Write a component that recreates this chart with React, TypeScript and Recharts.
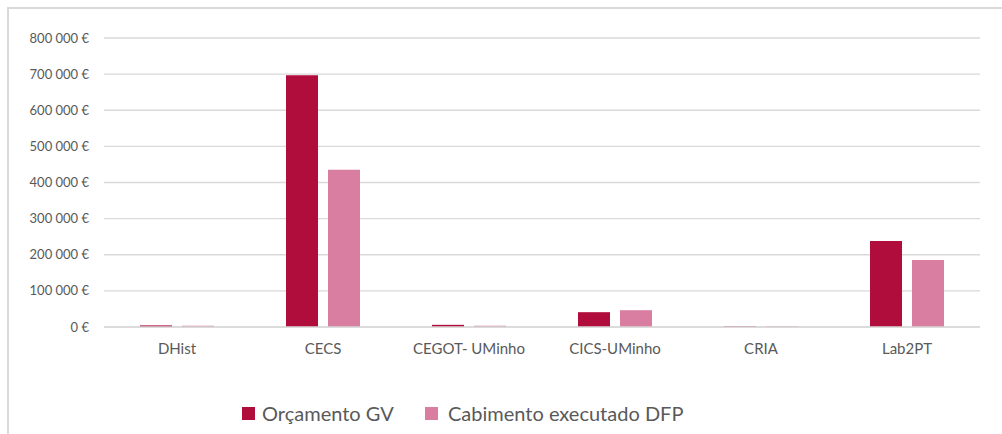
import { BarChart, Bar, XAxis, YAxis, CartesianGrid } from 'recharts';

const categories = ['DHist', 'CECS', 'CEGOT- UMinho', 'CICS-UMinho', 'CRIA', 'Lab2PT'];
const orcamentoGV = [4500, 697000, 6000, 41000, 2000, 238000];
const cabimentoDFP = [3500, 435000, 3500, 46500, 2000, 185500];
const yTicks = [0, 100000, 200000, 300000, 400000, 500000, 600000, 700000, 800000];

const series = [
  { key: 'gv', name: 'Orçamento GV', color: '#B00C3C' },
  { key: 'dfp', name: 'Cabimento executado DFP', color: '#D97EA1' },
];

const data = categories.map((name, i) => ({
  name,
  gv: orcamentoGV[i],
  dfp: cabimentoDFP[i],
}));

const font = 'Lato, "Open Sans", sans-serif';

const euro = (v: number) => {
  if (v === 0) return '0 €';
  return `${String(v).replace(/\B(?=(\d{3})+(?!\d))/g, ' ')} €`;
};

// legend item left edges and gap after the swatch
const legendLeft = [242, 425];
const swatchGap = [7, 10];

export default function App() {
  return (
    <div
      style={{
        position: 'fixed',
        left: 0,
        top: 0,
        width: 1002,
        height: 434,
        overflow: 'hidden',
        background: '#fff',
        fontFamily: font,
      }}
    >
      {/* chart frame, cut off on the right and bottom */}
      <div
        style={{
          position: 'absolute',
          left: 7,
          top: 7,
          width: 1020,
          height: 450,
          border: '2px solid #d9d9d9',
          boxSizing: 'border-box',
        }}
      />
      <div style={{ position: 'absolute', left: 0, top: 0 }}>
        <BarChart
          width={1002}
          height={434}
          data={data}
          margin={{ top: 38, right: 22, bottom: 67, left: 8 }}
          barSize={32}
          barGap={10}
        >
          <CartesianGrid vertical={false} stroke="#d9d9d9" strokeWidth={1.3} />
          <XAxis
            dataKey="name"
            height={40}
            tickSize={0}
            tickMargin={16}
            axisLine={{ stroke: '#d9d9d9', strokeWidth: 1.3 }}
            tick={{ fontSize: 15, fill: '#595959', fontFamily: font }}
            interval={0}
          />
          <YAxis
            width={96}
            domain={[0, 800000]}
            ticks={yTicks}
            tickFormatter={euro}
            tickSize={0}
            tickMargin={15}
            axisLine={false}
            tickLine={false}
            tick={{ fontSize: 13, fill: '#595959', fontFamily: font }}
          />
          {series.map((s) => (
            <Bar key={s.key} dataKey={s.key} name={s.name} fill={s.color} isAnimationActive={false} />
          ))}
        </BarChart>
      </div>
      {series.map((s, i) => (
        <div
          key={s.key}
          style={{
            position: 'absolute',
            left: legendLeft[i],
            top: 400,
            display: 'flex',
            alignItems: 'center',
            color: '#595959',
            fontSize: 20,
            lineHeight: '26px',
            whiteSpace: 'nowrap',
          }}
        >
          <span
            style={{ width: 13, height: 13, background: s.color, display: 'inline-block', marginRight: swatchGap[i] }}
          />
          <span>{s.name}</span>
        </div>
      ))}
    </div>
  );
}
